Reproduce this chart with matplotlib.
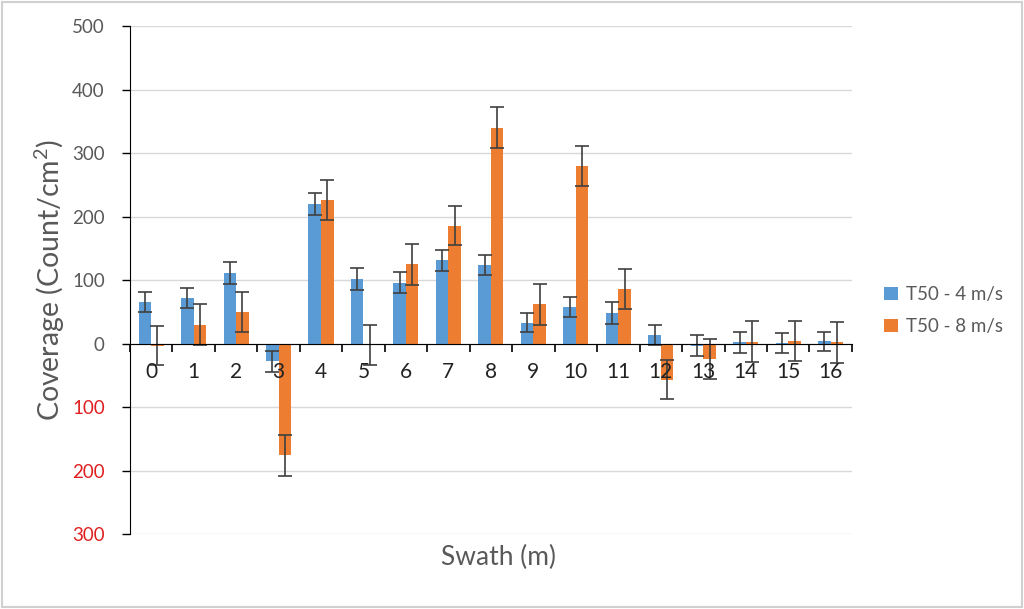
import matplotlib.pyplot as plt
import numpy as np
from matplotlib.patches import Rectangle

plt.rcParams['font.family'] = ['Lato', 'DejaVu Sans']

# Values
swath = [str(i) for i in range(17)]
t50_4 = [66, 72, 111, -28, 220, 102, 96, 131, 124, 33, 58, 48, 14, -3, 2, 1.5, 3.5]
t50_4_err = [16, 16, 17, 16, 17, 17, 17, 16, 16, 15, 16, 17, 16, 16, 16, 15.5, 15.5]
t50_8 = [-3, 30, 50, -176, 226, -2, 125, 186, 340, 62, 280, 86, -57, -24, 3, 4, 2]
t50_8_err = [31, 32, 32, 32, 32, 31, 32, 31, 32, 32, 32, 32, 31, 32, 32, 32, 32]

blue = "#5b9bd5"
orange = "#ed7d31"
grey_text = "#595959"

fig = plt.figure(figsize=(10.24, 6.09), dpi=100)
ax = fig.add_axes([0.1268, 0.123, 0.7052, 0.834])

x = np.arange(len(swath))
w = 0.295
err_kw = dict(ecolor="#404040", elinewidth=1.2, capsize=5, capthick=1.2)
ax.bar(x - w / 2, t50_4, w, yerr=t50_4_err, color=blue, error_kw=err_kw,
       label="T50 - 4 m/s", zorder=3)
ax.bar(x + w / 2, t50_8, w, yerr=t50_8_err, color=orange, error_kw=err_kw,
       label="T50 - 8 m/s", zorder=3)

ax.set_xlim(-0.5, len(swath) - 0.5)
ax.set_ylim(-300, 500)

# y axis: Excel style, negatives shown without sign in red
yticks = np.arange(-300, 501, 100)
ax.set_yticks(yticks)
ax.set_yticklabels([str(abs(v)) for v in yticks], fontsize=13.5)
for lab, v in zip(ax.get_yticklabels(), yticks):
    lab.set_color("#e02020" if v < 0 else grey_text)
ax.tick_params(axis="y", direction="out", length=6, width=1, pad=12, color="black")
ax.yaxis.grid(True, color="#d9d9d9", linewidth=1, zorder=0)

# x axis sits on zero, ticks between categories, labels at centres
ax.spines["bottom"].set_position(("data", 0))
ax.spines["bottom"].set_zorder(4)
ax.spines["top"].set_visible(False)
ax.spines["right"].set_visible(False)
ax.set_xticks(np.arange(-0.5, len(swath), 1.0))
ax.set_xticklabels([])
ax.set_xticks(x, minor=True)
ax.set_xticklabels(swath, minor=True, fontsize=15, color="#222222")
ax.tick_params(axis="x", which="major", direction="out", length=6, width=1.2)
ax.tick_params(axis="x", which="minor", length=0, pad=13)
ax.xaxis.set_zorder(5)

fig.text(0.049, 0.54, r"Coverage (Count/cm$\mathregular{^2}$)", rotation=90,
         ha="center", va="center", fontsize=20.5, color=grey_text)
fig.text(0.487, 0.085, "Swath (m)", ha="center", va="center", fontsize=19,
         color=grey_text)

fig.legend(loc="center left", bbox_to_anchor=(0.847, 0.49), frameon=False,
           fontsize=13.5, handlelength=0.75, handleheight=0.75, handletextpad=0.4,
           labelspacing=0.8, labelcolor=grey_text)

fig.patches.append(Rectangle((0.002, 0.003), 0.996, 0.994, transform=fig.transFigure,
                             fill=False, edgecolor="#d0d0d0", linewidth=1.5))

fig.savefig("out.png", dpi=100)
